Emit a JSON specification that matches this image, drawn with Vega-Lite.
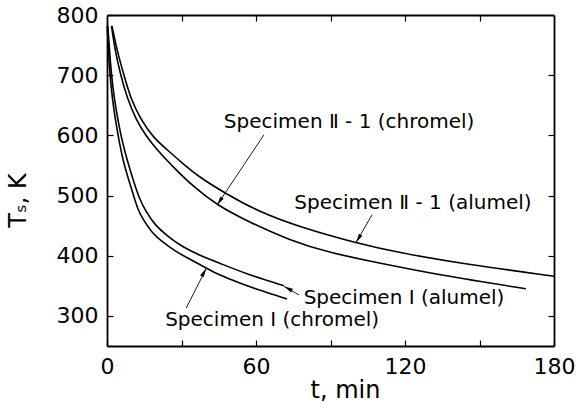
{
  "$schema": "https://vega.github.io/schema/vega-lite/v6.json",
  "width": 447,
  "height": 331,
  "autosize": {"type": "none"},
  "padding": {"left": 107, "top": 15, "right": 27, "bottom": 63},
  "background": "white",
  "config": {
    "view": {"stroke": null},
    "font": "DejaVu Sans",
    "axis": {
      "labelFont": "DejaVu Sans",
      "titleFont": "DejaVu Sans",
      "labelFontSize": 22,
      "titleFontSize": 24,
      "titleFontWeight": "normal",
      "labelColor": "black",
      "titleColor": "black",
      "domainColor": "black",
      "domainWidth": 1.8,
      "tickColor": "black",
      "tickWidth": 1.2,
      "tickSize": -6,
      "labelFlush": false,
      "grid": false
    }
  },
  "datasets": {
    "curves": [
      {"series": "II-1 alumel", "t": 2.0, "T": 782},
      {"series": "II-1 alumel", "t": 4.0, "T": 742},
      {"series": "II-1 alumel", "t": 6.8, "T": 700},
      {"series": "II-1 alumel", "t": 9.7, "T": 659},
      {"series": "II-1 alumel", "t": 13.7, "T": 626},
      {"series": "II-1 alumel", "t": 18.5, "T": 597},
      {"series": "II-1 alumel", "t": 24.2, "T": 576},
      {"series": "II-1 alumel", "t": 30.6, "T": 553},
      {"series": "II-1 alumel", "t": 37.0, "T": 531},
      {"series": "II-1 alumel", "t": 47.9, "T": 503},
      {"series": "II-1 alumel", "t": 61.2, "T": 473},
      {"series": "II-1 alumel", "t": 77.3, "T": 448},
      {"series": "II-1 alumel", "t": 100.3, "T": 421},
      {"series": "II-1 alumel", "t": 117.6, "T": 405},
      {"series": "II-1 alumel", "t": 144.2, "T": 386},
      {"series": "II-1 alumel", "t": 180, "T": 366},
      {"series": "II-1 chromel", "t": 1.8, "T": 782},
      {"series": "II-1 chromel", "t": 3.2, "T": 742},
      {"series": "II-1 chromel", "t": 5.5, "T": 700},
      {"series": "II-1 chromel", "t": 8.1, "T": 662},
      {"series": "II-1 chromel", "t": 11.7, "T": 626},
      {"series": "II-1 chromel", "t": 15.7, "T": 599},
      {"series": "II-1 chromel", "t": 20.1, "T": 576},
      {"series": "II-1 chromel", "t": 27.0, "T": 546},
      {"series": "II-1 chromel", "t": 35.0, "T": 514},
      {"series": "II-1 chromel", "t": 44.3, "T": 484},
      {"series": "II-1 chromel", "t": 57.2, "T": 456},
      {"series": "II-1 chromel", "t": 73.3, "T": 426},
      {"series": "II-1 chromel", "t": 89.4, "T": 405},
      {"series": "II-1 chromel", "t": 109.5, "T": 388},
      {"series": "II-1 chromel", "t": 133.7, "T": 368},
      {"series": "II-1 chromel", "t": 168.7, "T": 345},
      {"series": "I alumel", "t": 0.3, "T": 782},
      {"series": "I alumel", "t": 1.0, "T": 742},
      {"series": "I alumel", "t": 1.8, "T": 700},
      {"series": "I alumel", "t": 3.0, "T": 659},
      {"series": "I alumel", "t": 4.4, "T": 626},
      {"series": "I alumel", "t": 6.0, "T": 592},
      {"series": "I alumel", "t": 8.1, "T": 559},
      {"series": "I alumel", "t": 10.5, "T": 526},
      {"series": "I alumel", "t": 12.9, "T": 496},
      {"series": "I alumel", "t": 15.7, "T": 473},
      {"series": "I alumel", "t": 19.3, "T": 451},
      {"series": "I alumel", "t": 24.2, "T": 433},
      {"series": "I alumel", "t": 30.2, "T": 415},
      {"series": "I alumel", "t": 37.1, "T": 401},
      {"series": "I alumel", "t": 45.1, "T": 388},
      {"series": "I alumel", "t": 57.2, "T": 368},
      {"series": "I alumel", "t": 71.3, "T": 350},
      {"series": "I chromel", "t": 0.1, "T": 782},
      {"series": "I chromel", "t": 0.6, "T": 742},
      {"series": "I chromel", "t": 1.2, "T": 700},
      {"series": "I chromel", "t": 2.2, "T": 659},
      {"series": "I chromel", "t": 3.4, "T": 626},
      {"series": "I chromel", "t": 4.8, "T": 592},
      {"series": "I chromel", "t": 6.4, "T": 559},
      {"series": "I chromel", "t": 8.5, "T": 529},
      {"series": "I chromel", "t": 10.5, "T": 503},
      {"series": "I chromel", "t": 12.2, "T": 479},
      {"series": "I chromel", "t": 14.5, "T": 460},
      {"series": "I chromel", "t": 18.2, "T": 438},
      {"series": "I chromel", "t": 22.2, "T": 423},
      {"series": "I chromel", "t": 27.7, "T": 407},
      {"series": "I chromel", "t": 33.0, "T": 395},
      {"series": "I chromel", "t": 39.8, "T": 380},
      {"series": "I chromel", "t": 45.1, "T": 368},
      {"series": "I chromel", "t": 53.2, "T": 355},
      {"series": "I chromel", "t": 61.2, "T": 343},
      {"series": "I chromel", "t": 72.5, "T": 328}
    ],
    "notes": [
      {"id": "a", "label": "Specimen Ⅱ - 1 (chromel)", "tx": 97.5, "Ty": 622, "t1": 63.2, "T1": 601, "t2": 44.3, "T2": 484},
      {"id": "b", "label": "Specimen Ⅱ - 1 (alumel)", "tx": 123.2, "Ty": 488, "t1": 106.7, "T1": 468, "t2": 100.3, "T2": 422},
      {"id": "c", "label": "Specimen Ⅰ (alumel)", "tx": 119.6, "Ty": 330, "t1": 77.3, "T1": 335, "t2": 71.3, "T2": 349},
      {"id": "d", "label": "Specimen Ⅰ (chromel)", "tx": 66.5, "Ty": 293, "t1": 31.9, "T1": 313, "t2": 40.0, "T2": 379}
    ]
  },
  "resolve": {"axis": {"x": "independent", "y": "independent"}},
  "layer": [
    {
      "data": {"name": "curves"},
      "mark": {"type": "line", "color": "black", "strokeWidth": 1.6, "interpolate": "basis"},
      "encoding": {
        "x": {"field": "t", "type": "quantitative",
          "scale": {"domain": [0, 180], "nice": false, "zero": false},
          "axis": {"values": [0, 30, 60, 90, 120, 150, 180],
            "labelExpr": "datum.value % 60 === 0 ? datum.label : ''",
            "labelPadding": 16, "title": "t, min",
            "titleX": 238, "titleY": 44, "titleBaseline": "middle"}},
        "y": {"field": "T", "type": "quantitative",
          "scale": {"domain": [250, 800], "nice": false, "zero": false},
          "axis": {"values": [300, 400, 500, 600, 700, 800],
            "labelPadding": 15, "title": "Tₛ, K",
            "titleX": -89, "titleY": 185, "titleBaseline": "middle", "titleAlign": "center"}},
        "detail": {"field": "series"}
      }
    },
    {
      "data": {"name": "notes"},
      "mark": {"type": "rule", "color": "black", "strokeWidth": 0.9},
      "encoding": {
        "x": {"field": "t1", "type": "quantitative",
          "scale": {"domain": [0, 180], "nice": false, "zero": false},
          "axis": {"orient": "top", "values": [30, 60, 90, 120, 150], "labels": false, "title": null}},
        "y": {"field": "T1", "type": "quantitative",
          "scale": {"domain": [250, 800], "nice": false, "zero": false},
          "axis": {"orient": "right", "values": [300, 400, 500, 600, 700], "labels": false, "title": null}},
        "x2": {"field": "t2"},
        "y2": {"field": "T2"}
      }
    },
    {
      "data": {"name": "notes"},
      "transform": [{"filter": "datum.id === 'a'"}],
      "mark": {"type": "point", "shape": "M0,0L-0.45,2L0.45,2Z", "filled": true, "color": "black", "opacity": 1, "size": 81, "angle": 214},
      "encoding": {
        "x": {"field": "t2", "type": "quantitative", "axis": null},
        "y": {"field": "T2", "type": "quantitative", "axis": null}
      }
    },
    {
      "data": {"name": "notes"},
      "transform": [{"filter": "datum.id === 'b'"}],
      "mark": {"type": "point", "shape": "M0,0L-0.45,2L0.45,2Z", "filled": true, "color": "black", "opacity": 1, "size": 81, "angle": 211},
      "encoding": {
        "x": {"field": "t2", "type": "quantitative", "axis": null},
        "y": {"field": "T2", "type": "quantitative", "axis": null}
      }
    },
    {
      "data": {"name": "notes"},
      "transform": [{"filter": "datum.id === 'c'"}],
      "mark": {"type": "point", "shape": "M0,0L-0.45,2L0.45,2Z", "filled": true, "color": "black", "opacity": 1, "size": 81, "angle": 298},
      "encoding": {
        "x": {"field": "t2", "type": "quantitative", "axis": null},
        "y": {"field": "T2", "type": "quantitative", "axis": null}
      }
    },
    {
      "data": {"name": "notes"},
      "transform": [{"filter": "datum.id === 'd'"}],
      "mark": {"type": "point", "shape": "M0,0L-0.45,2L0.45,2Z", "filled": true, "color": "black", "opacity": 1, "size": 81, "angle": 30},
      "encoding": {
        "x": {"field": "t2", "type": "quantitative", "axis": null},
        "y": {"field": "T2", "type": "quantitative", "axis": null}
      }
    },
    {
      "data": {"name": "notes"},
      "mark": {"type": "text", "font": "DejaVu Sans", "fontSize": 20, "color": "black", "align": "center", "baseline": "middle"},
      "encoding": {
        "x": {"field": "tx", "type": "quantitative", "axis": null},
        "y": {"field": "Ty", "type": "quantitative", "axis": null},
        "text": {"field": "label"}
      }
    }
  ]
}
